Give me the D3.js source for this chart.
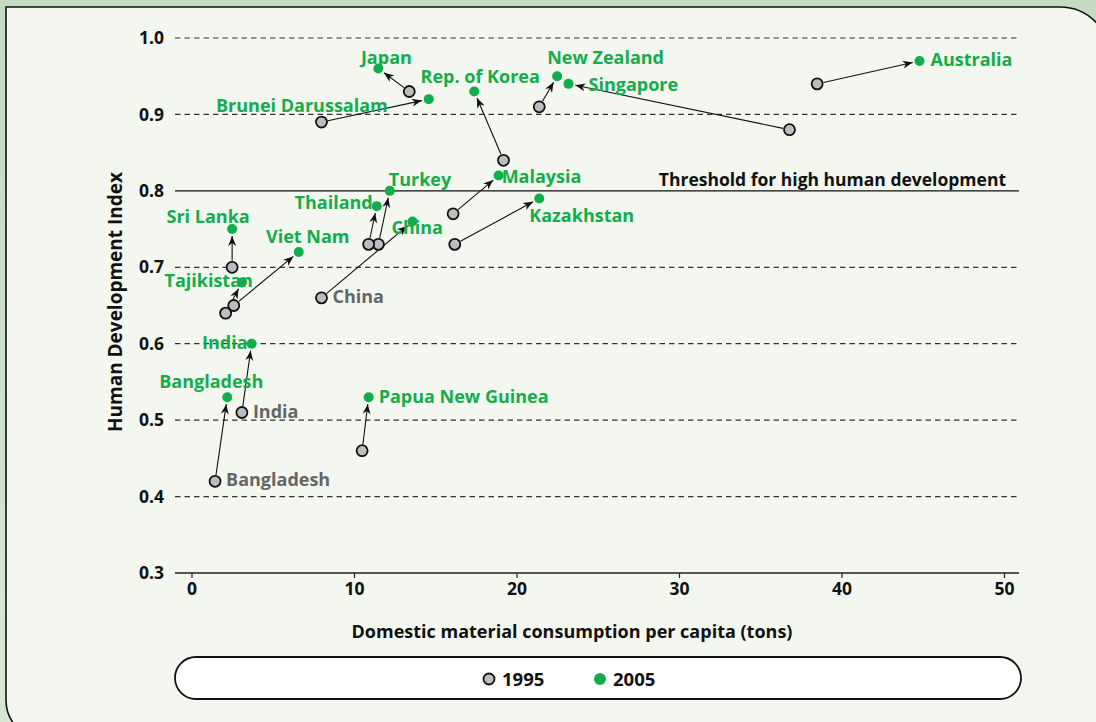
<!DOCTYPE html>
<html>
<head>
<meta charset="utf-8">
<script src="https://cdn.jsdelivr.net/npm/d3@7"></script>
<style>
  body { margin: 0; background: #cfe2cb; }
  svg text { font-family: "Open Sans", "DejaVu Sans", sans-serif; }
</style>
</head>
<body>
<div id="chart"></div>
<script>
// data
var countries = ["Japan", "Brunei Darussalam", "Rep. of Korea", "New Zealand", "Singapore", "Australia",
                 "Malaysia", "Kazakhstan", "Turkey", "Thailand", "China", "Sri Lanka", "Viet Nam",
                 "Tajikistan", "India", "Bangladesh", "Papua New Guinea"];
var dmc1995 = [13.4, 8.0, 19.2, 21.4, 36.8, 38.5, 16.1, 16.2, 11.5, 10.9, 8.0, 2.5, 2.6, 2.1, 3.1, 1.45, 10.5];
var hdi1995 = [0.93, 0.89, 0.84, 0.91, 0.88, 0.94, 0.77, 0.73, 0.73, 0.73, 0.66, 0.70, 0.65, 0.64, 0.51, 0.42, 0.46];
var dmc2005 = [11.5, 14.6, 17.4, 22.5, 23.2, 44.8, 18.9, 21.4, 12.2, 11.4, 13.6, 2.5, 6.6, 3.1, 3.7, 2.2, 10.9];
var hdi2005 = [0.96, 0.92, 0.93, 0.95, 0.94, 0.97, 0.82, 0.79, 0.80, 0.78, 0.76, 0.75, 0.72, 0.68, 0.60, 0.53, 0.53];
var grey1995Labels = ["China", "India", "Bangladesh"];
var xTicks = [0, 10, 20, 30, 40, 50];
var yTicks = [0.3, 0.4, 0.5, 0.6, 0.7, 0.8, 0.9, 1.0];
var threshold = 0.8;
var years = ["1995", "2005"];

// label placement (layout only): dx, dy, anchor
var labelPos = {
  "Japan": [8, -5, "middle"], "Brunei Darussalam": [-41, 13, "end"], "Rep. of Korea": [6, -9, "middle"],
  "New Zealand": [-10, -12, "start"], "Singapore": [20, 7, "start"], "Australia": [11, 5, "start"],
  "Malaysia": [3, 7, "start"], "Kazakhstan": [-10, 23, "start"], "Turkey": [-1, -5, "start"],
  "Thailand": [-4, 3, "end"], "China": [-21, 13, "start"], "Sri Lanka": [-24, -6, "middle"],
  "Viet Nam": [9, -9, "middle"], "Tajikistan": [11, 4, "end"], "India": [-4, 5, "end"],
  "Bangladesh": [-16, -9, "middle"], "Papua New Guinea": [10, 6, "start"]
};

var width = 1096, height = 722;
var green = "#13ad4b", greyFill = "#bdbdbf";

var svg = d3.select("#chart").append("svg")
    .attr("width", width).attr("height", height);

// outer background + card
var defs = svg.append("defs");
var grad = defs.append("linearGradient").attr("id", "bg").attr("x1", 0).attr("y1", 0).attr("x2", 0).attr("y2", 1);
grad.append("stop").attr("offset", "0").attr("stop-color", "#c3dbbf");
grad.append("stop").attr("offset", "1").attr("stop-color", "#d6e8d3");
svg.append("rect").attr("width", width).attr("height", height).attr("fill", "url(#bg)");

svg.append("path")
    .attr("d", "M6,7 L1060,7 A50,50 0 0 1 1110,57 L1110,740 L46,740 A40,40 0 0 1 6,700 Z")
    .attr("fill", "#f3f7f0").attr("stroke", "#111").attr("stroke-width", 1.6);

var x = d3.scaleLinear().domain([0, 50]).range([191.5, 1004]);
var y = d3.scaleLinear().domain([0.3, 1.0]).range([573, 38]);
var left = 175, right = 1019;

// grid lines
svg.append("g").selectAll("line")
  .data(yTicks.filter(function(d) { return d > 0.3 && Math.abs(d - threshold) > 1e-9; }))
  .enter().append("line")
    .attr("x1", left).attr("x2", right)
    .attr("y1", function(d) { return y(d); }).attr("y2", function(d) { return y(d); })
    .attr("stroke", "#333").attr("stroke-width", 1.2).attr("stroke-dasharray", "5.5,4");

// threshold
svg.append("line")
    .attr("x1", left).attr("x2", right).attr("y1", y(threshold)).attr("y2", y(threshold))
    .attr("stroke", "#111").attr("stroke-width", 1.3);
svg.append("text")
    .attr("x", 1006).attr("y", y(threshold) - 5)
    .attr("text-anchor", "end").attr("font-size", 17.5).attr("font-weight", 700).attr("fill", "#111")
    .text("Threshold for high human development");

// x axis
var xAxis = svg.append("g").attr("transform", "translate(0," + y(0.3) + ")")
    .call(d3.axisBottom(x).tickValues(xTicks).tickSize(5).tickPadding(5));
xAxis.select(".domain").remove();
xAxis.selectAll(".tick line").attr("stroke", "#222").attr("stroke-width", 1.2);
xAxis.selectAll(".tick text").attr("font-size", 17.5).attr("font-weight", 700).attr("fill", "#111");
svg.append("line").attr("x1", left).attr("x2", right).attr("y1", y(0.3)).attr("y2", y(0.3))
    .attr("stroke", "#222").attr("stroke-width", 1.6);

// y axis
var yAxis = svg.append("g").attr("transform", "translate(164,0)")
    .call(d3.axisLeft(y).tickValues(yTicks).tickFormat(d3.format(".1f")).tickSize(0).tickPadding(0));
yAxis.select(".domain").remove();
yAxis.selectAll(".tick text").attr("font-size", 17.5).attr("font-weight", 700).attr("fill", "#111");

// axis titles
svg.append("text")
    .attr("x", 572).attr("y", 638).attr("text-anchor", "middle")
    .attr("font-size", 18).attr("font-weight", 700).attr("fill", "#111")
    .text("Domestic material consumption per capita (tons)");
svg.append("text")
    .attr("transform", "translate(122,302) rotate(-90)").attr("text-anchor", "middle")
    .attr("font-size", 19).attr("font-weight", 700).attr("fill", "#111")
    .text("Human Development Index");

// arrows
defs.append("marker").attr("id", "arr")
    .attr("viewBox", "-10 -5 12 10").attr("refX", 0).attr("refY", 0)
    .attr("markerWidth", 12).attr("markerHeight", 10).attr("markerUnits", "userSpaceOnUse")
    .attr("orient", "auto")
  .append("path").attr("d", "M0,0 L-10,-4 L-7,0 L-10,4 Z").attr("fill", "#111");

var idx = d3.range(countries.length);
svg.append("g").selectAll("line")
  .data(idx).enter().append("line")
    .each(function(i) {
      var x0 = x(dmc1995[i]), y0 = y(hdi1995[i]), x1 = x(dmc2005[i]), y1 = y(hdi2005[i]);
      var dx = x1 - x0, dy = y1 - y0, len = Math.sqrt(dx * dx + dy * dy);
      var ux = dx / len, uy = dy / len;
      d3.select(this)
        .attr("x1", x0 + ux * 6.5).attr("y1", y0 + uy * 6.5)
        .attr("x2", x1 - ux * 7).attr("y2", y1 - uy * 7);
    })
    .attr("stroke", "#111").attr("stroke-width", 1.1).attr("marker-end", "url(#arr)");

// points
svg.append("g").selectAll("circle")
  .data(idx).enter().append("circle")
    .attr("cx", function(i) { return x(dmc1995[i]); })
    .attr("cy", function(i) { return y(hdi1995[i]); })
    .attr("r", 5.5).attr("fill", greyFill).attr("stroke", "#111").attr("stroke-width", 1.8);
svg.append("g").selectAll("circle")
  .data(idx).enter().append("circle")
    .attr("cx", function(i) { return x(dmc2005[i]); })
    .attr("cy", function(i) { return y(hdi2005[i]); })
    .attr("r", 5).attr("fill", green);

// labels
var lbl = svg.append("g").attr("font-size", 18).attr("font-weight", 700);
lbl.selectAll("text.g05")
  .data(idx).enter().append("text").attr("class", "g05")
    .attr("x", function(i) { return x(dmc2005[i]) + labelPos[countries[i]][0]; })
    .attr("y", function(i) { return y(hdi2005[i]) + labelPos[countries[i]][1]; })
    .attr("text-anchor", function(i) { return labelPos[countries[i]][2]; })
    .attr("fill", green)
    .text(function(i) { return countries[i]; });
lbl.selectAll("text.g95")
  .data(grey1995Labels).enter().append("text").attr("class", "g95")
    .attr("x", function(c) { return x(dmc1995[countries.indexOf(c)]) + 11; })
    .attr("y", function(c) { return y(hdi1995[countries.indexOf(c)]) + 5; })
    .attr("fill", "#666")
    .text(function(c) { return c; });

// legend
svg.append("rect")
    .attr("x", 175).attr("y", 657).attr("width", 846).attr("height", 42)
    .attr("rx", 21).attr("ry", 21)
    .attr("fill", "#fff").attr("stroke", "#111").attr("stroke-width", 1.8);
var leg = svg.append("g").selectAll("g").data(years).enter().append("g")
    .attr("transform", function(d, i) { return "translate(" + (489 + i * 111) + ",679)"; });
leg.append("circle")
    .attr("r", function(d, i) { return i === 0 ? 5.5 : 6; })
    .attr("fill", function(d, i) { return i === 0 ? greyFill : green; })
    .attr("stroke", function(d, i) { return i === 0 ? "#111" : "none"; })
    .attr("stroke-width", 1.8);
leg.append("text").attr("x", 13).attr("y", 6.5)
    .attr("font-size", 18.5).attr("font-weight", 700).attr("fill", "#111")
    .text(function(d) { return d; });
</script>
</body>
</html>
